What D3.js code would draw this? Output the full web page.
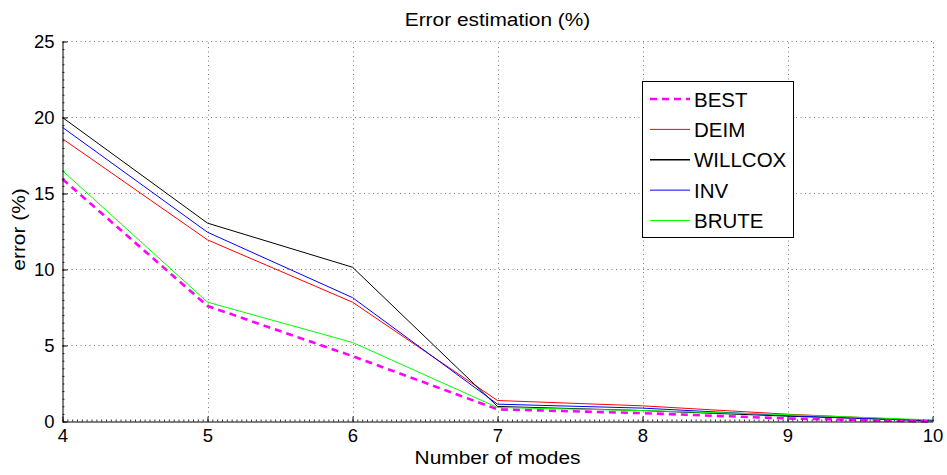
<!DOCTYPE html>
<html>
<head>
<meta charset="utf-8">
<script src="https://cdn.jsdelivr.net/npm/d3@7/dist/d3.min.js"></script>
<style>
  html, body { margin: 0; padding: 0; background: #fff; }
  svg { display: block; font-family: "Liberation Sans", Arial, Helvetica, sans-serif; }
</style>
</head>
<body>
<svg id="chart" width="947" height="475"></svg>
<script>
// Number of retained modes
const modes = [4, 5, 6, 7, 8, 9, 10];

// Estimated error (%) for each selection strategy
const best    = [15.95, 7.6, 4.3, 0.8, 0.55, 0.2, 0.0];
const deim    = [18.6, 11.95, 7.85, 1.38, 1.03, 0.48, 0.05];
const willcox = [20.0, 13.05, 10.15, 0.99, 0.72, 0.35, 0.05];
const inv     = [19.35, 12.45, 8.15, 1.14, 0.88, 0.38, 0.05];
const brute   = [16.5, 7.85, 5.2, 0.92, 0.72, 0.45, 0.1];

const seriesNames = ["BEST", "DEIM", "WILLCOX", "INV", "BRUTE"];
const yTicks = [0, 5, 10, 15, 20, 25];

const title = "Error estimation (%)";
const xLabel = "Number of modes";
const yLabel = "error (%)";

const series = [
  { name: seriesNames[0], values: best,    color: "#ff00ff", width: 2.6, dash: "7,5" },
  { name: seriesNames[1], values: deim,    color: "#ff0000", width: 1,   dash: null },
  { name: seriesNames[2], values: willcox, color: "#000000", width: 1,   dash: null },
  { name: seriesNames[3], values: inv,     color: "#0000ff", width: 1,   dash: null },
  { name: seriesNames[4], values: brute,   color: "#00ff00", width: 1,   dash: null }
];

const svg = d3.select("#chart");
const plotL = 62.5, plotR = 932.5, plotT = 41.5, plotB = 421.5;

const x = d3.scaleLinear().domain([4, 10]).range([plotL, plotR]);
const y = d3.scaleLinear().domain([0, 25]).range([plotB, plotT]);

// Dotted grid
const grid = svg.append("g").attr("stroke", "#777").attr("stroke-width", 1)
  .attr("stroke-dasharray", "1,3.5");
grid.selectAll("line.gx").data(modes.slice(1)).join("line")
  .attr("x1", d => Math.round(x(d)) + 0.5).attr("x2", d => Math.round(x(d)) + 0.5)
  .attr("y1", plotB).attr("y2", plotT);
grid.selectAll("line.gy").data(yTicks.slice(1)).join("line")
  .attr("y1", d => y(d)).attr("y2", d => y(d))
  .attr("x1", plotL).attr("x2", plotR);

// Series lines
const line = d3.line().x((d, i) => x(modes[i])).y(d => y(d));
const drawOrder = [1, 2, 3, 4, 0];
drawOrder.forEach(k => {
  const s = series[k];
  svg.append("path")
    .datum(s.values)
    .attr("fill", "none")
    .attr("stroke", s.color)
    .attr("stroke-width", s.width)
    .attr("stroke-dasharray", s.dash)
    .attr("d", line);
});

// Minor ticks
const xMinor = d3.range(4, 10.0001, 1 / 30);
const yMinor = d3.range(0, 25.0001, 0.5);
svg.append("g").attr("transform", `translate(0,${plotB})`)
  .call(d3.axisBottom(x).tickValues(xMinor).tickSize(-2).tickSizeOuter(0).tickFormat(""))
  .call(g => g.select(".domain").remove())
  .selectAll("line").attr("stroke", "#333");
svg.append("g").attr("transform", `translate(${plotL},0)`)
  .call(d3.axisLeft(y).tickValues(yMinor).tickSize(-2).tickSizeOuter(0).tickFormat(""))
  .call(g => g.select(".domain").remove())
  .selectAll("line").attr("stroke", "#333");

// Major axes
const xAxis = svg.append("g").attr("transform", `translate(0,${plotB})`)
  .call(d3.axisBottom(x).tickValues(modes).tickFormat(d3.format("d"))
    .tickSize(-5).tickSizeOuter(0).tickPadding(7));
const yAxis = svg.append("g").attr("transform", `translate(${plotL},0)`)
  .call(d3.axisLeft(y).tickValues(yTicks).tickFormat(d3.format("d"))
    .tickSize(-5).tickSizeOuter(0).tickPadding(8));
[xAxis, yAxis].forEach(g => {
  g.attr("font-family", null).attr("font-size", null);
  g.selectAll("text").attr("font-size", 18.5).attr("fill", "#000");
  g.select(".domain").attr("stroke", "#000");
  g.selectAll(".tick line").attr("stroke", "#000");
});

// Titles
svg.append("text")
  .attr("transform", `translate(${(plotL + plotR) / 2},26) scale(1.16,1)`)
  .attr("text-anchor", "middle").attr("font-size", 18).text(title);
svg.append("text")
  .attr("transform", `translate(${(plotL + plotR) / 2},464) scale(1.16,1)`)
  .attr("text-anchor", "middle").attr("font-size", 18).text(xLabel);
svg.append("text")
  .attr("transform", `translate(25,${(plotT + plotB) / 2 - 2}) rotate(-90) scale(1.16,1)`)
  .attr("text-anchor", "middle").attr("font-size", 18).text(yLabel);

// Legend
const legend = svg.append("g");
legend.append("rect")
  .attr("x", 642.5).attr("y", 81.5).attr("width", 151).attr("height", 156)
  .attr("fill", "#fff").attr("stroke", "#000").attr("stroke-width", 1);
const rowY = d3.scalePoint().domain(seriesNames).range([99, 220.5]);
series.forEach(s => {
  const cy = rowY(s.name);
  legend.append("line")
    .attr("x1", 650).attr("x2", 690).attr("y1", cy).attr("y2", cy)
    .attr("stroke", s.color).attr("stroke-width", s.name === "WILLCOX" ? 1.4 : s.width)
    .attr("stroke-dasharray", s.dash);
  legend.append("text")
    .attr("x", 694).attr("y", cy + 7.5)
    .attr("font-size", 20.5).attr("fill", "#000").text(s.name);
});
</script>
</body>
</html>
